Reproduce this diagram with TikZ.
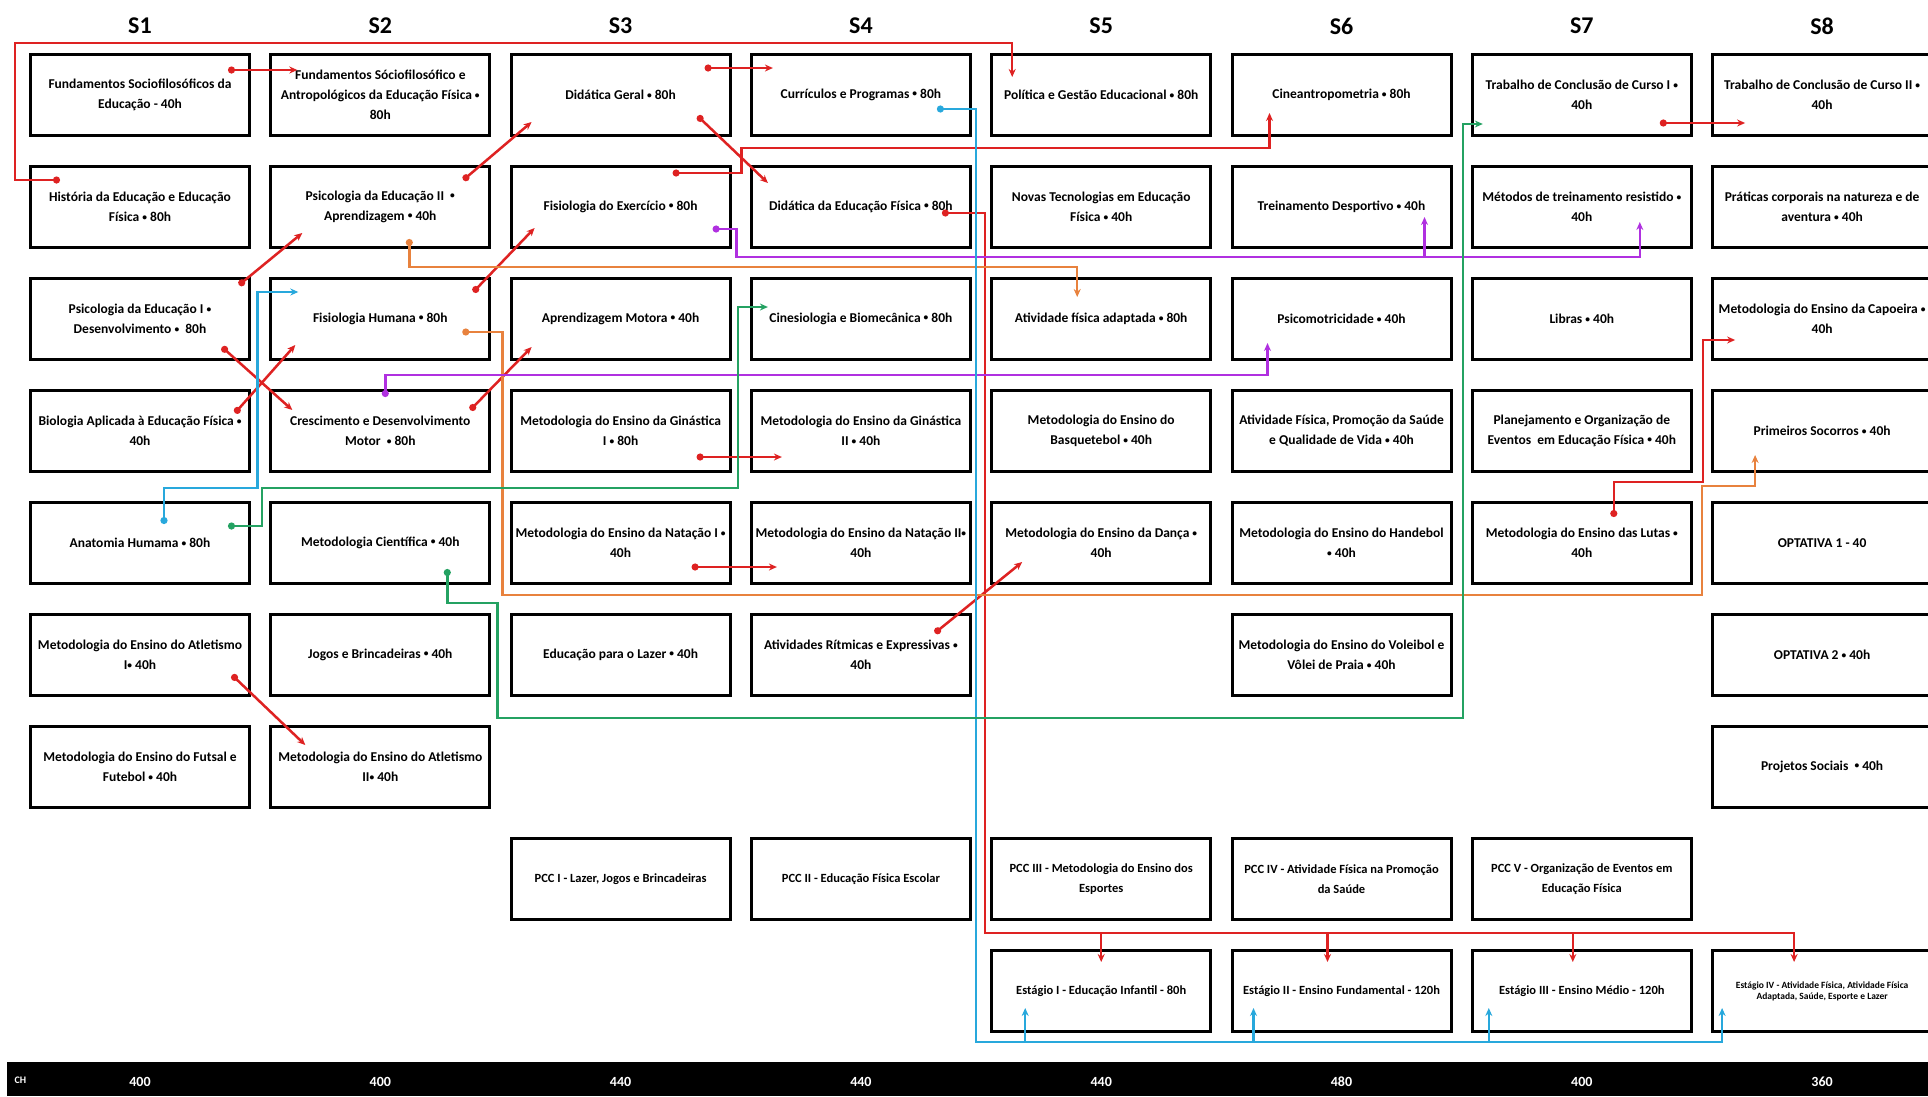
\documentclass[tikz,border=0pt]{standalone}
\usepackage{fontspec}
\setmainfont{Carlito}
\usepackage{tikz}
\usetikzlibrary{positioning,arrows,calc,arrows.meta}
\definecolor{reqred}{RGB}{222,34,34}
\definecolor{reqorange}{RGB}{232,130,62}
\definecolor{reqpurple}{RGB}{176,48,224}
\definecolor{reqblue}{RGB}{40,168,220}
\definecolor{reqgreen}{RGB}{36,162,98}
\newcommand{\hsep}{\raisebox{.25ex}{\scalebox{.7}{•}}}
\tikzset{
	grade/.style={x=1pt,y=-1pt,node distance=28pt and 18.3pt},
	disc/.style={rectangle,draw,line width=3pt,minimum width=219pt,minimum height=81pt,
		inner xsep=0pt,inner ysep=1pt,align=center,font=\bfseries\fontsize{13.5}{20}\selectfont},
	pcc/.style={disc,font=\bfseries\fontsize{12.5}{19.5}\selectfont},
	semester/.style={font=\bfseries\fontsize{24}{28}\selectfont},
	load/.style={text=white,font=\bfseries\fontsize{14}{16}\selectfont},
	link/.style={line width=2.5pt,{Circle[length=7pt]}-{Stealth[length=8pt,width=7pt]}},
	branch/.style={line width=2.5pt,-{Stealth[length=8pt,width=7pt]}}
}

\begin{document}
\begin{tikzpicture}[grade]
	\path[use as bounding box,fill=white] (0,0) rectangle (1928,1096);
	
	\node[disc] (s1a) at (140,95) {Fundamentos Sociofilosóficos da\\Educação - 40h};
	\node[disc] (s1b) [below=of s1a] {História da Educação e Educação\\Física \hsep{} 80h};
	\node[disc] (s1c) [below=of s1b] {Psicologia da Educação I \hsep\\Desenvolvimento \hsep{} \ 80h};
	\node[disc] (s1d) [below=of s1c] {Biologia Aplicada à Educação Física \hsep\\40h};
	\node[disc] (s1e) [below=of s1d] {Anatomia Humama \hsep{} 80h};
	\node[disc] (s1f) [below=of s1e] {Metodologia do Ensino do Atletismo\\I\hsep{} 40h};
	\node[disc] (s1g) [below=of s1f] {Metodologia do Ensino do Futsal e\\Futebol \hsep{} 40h};
	
	\node[disc] (s2a) [right=of s1a] {Fundamentos Sóciofilosófico e\\Antropológicos da Educação Física \hsep\\80h};
	\node[disc] (s2b) [below=of s2a] {Psicologia da Educação II \ \hsep\\Aprendizagem \hsep{} 40h};
	\node[disc] (s2c) [below=of s2b] {Fisiologia Humana \hsep{} 80h};
	\node[disc] (s2d) [below=of s2c] {Crescimento e Desenvolvimento\\Motor \ \hsep{} 80h};
	\node[disc] (s2e) [below=of s2d] {Metodologia Científica \hsep{} 40h};
	\node[disc] (s2f) [below=of s2e] {Jogos e Brincadeiras \hsep{} 40h};
	\node[disc] (s2g) [below=of s2f] {Metodologia do Ensino do Atletismo\\II\hsep{} 40h};
	
	\node[disc] (s3a) [right=of s2a] {Didática Geral \hsep{} 80h};
	\node[disc] (s3b) [below=of s3a] {Fisiologia do Exercício \hsep{} 80h};
	\node[disc] (s3c) [below=of s3b] {Aprendizagem Motora \hsep{} 40h};
	\node[disc] (s3d) [below=of s3c] {Metodologia do Ensino da Ginástica\\I \hsep{} 80h};
	\node[disc] (s3e) [below=of s3d] {Metodologia do Ensino da Natação I \hsep\\40h};
	\node[disc] (s3f) [below=of s3e] {Educação para o Lazer \hsep{} 40h};
	\node[pcc] (s3h) [below=140pt of s3f] {PCC I - Lazer, Jogos e Brincadeiras};
	
	\node[disc] (s4a) [right=of s3a] {Currículos e Programas \hsep{} 80h};
	\node[disc] (s4b) [below=of s4a] {Didática da Educação Física \hsep{} 80h};
	\node[disc] (s4c) [below=of s4b] {Cinesiologia e Biomecânica \hsep{} 80h};
	\node[disc] (s4d) [below=of s4c] {Metodologia do Ensino da Ginástica\\II \hsep{} 40h};
	\node[disc] (s4e) [below=of s4d] {Metodologia do Ensino da Natação II\hsep\\40h};
	\node[disc] (s4f) [below=of s4e] {Atividades Rítmicas e Expressivas \hsep\\40h};
	\node[pcc] (s4h) [below=140pt of s4f] {PCC II - Educação Física Escolar};
	
	\node[disc] (s5a) [right=of s4a] {Política e Gestão Educacional \hsep{} 80h};
	\node[disc] (s5b) [below=of s5a] {Novas Tecnologias em Educação\\Física \hsep{} 40h};
	\node[disc] (s5c) [below=of s5b] {Atividade física adaptada \hsep{} 80h};
	\node[disc] (s5d) [below=of s5c] {Metodologia do Ensino do\\Basquetebol \hsep{} 40h};
	\node[disc] (s5e) [below=of s5d] {Metodologia do Ensino da Dança \hsep\\40h};
	\node[pcc] (s5h) [below=252pt of s5e] {PCC III - Metodologia do Ensino dos\\Esportes};
	\node[pcc] (s5i) [below=of s5h] {Estágio I - Educação Infantil - 80h};
	
	\node[disc] (s6a) [right=of s5a] {Cineantropometria \hsep{} 80h};
	\node[disc] (s6b) [below=of s6a] {Treinamento Desportivo \hsep{} 40h};
	\node[disc] (s6c) [below=of s6b] {Psicomotricidade \hsep{} 40h};
	\node[disc] (s6d) [below=of s6c] {Atividade Física, Promoção da Saúde\\e Qualidade de Vida \hsep{} 40h};
	\node[disc] (s6e) [below=of s6d] {Metodologia do Ensino do Handebol\\\hsep{} 40h};
	\node[disc] (s6f) [below=of s6e] {Metodologia do Ensino do Voleibol e\\Vôlei de Praia \hsep{} 40h};
	\node[pcc] (s6h) [below=140pt of s6f] {PCC IV - Atividade Física na Promoção\\da Saúde};
	\node[pcc] (s6i) [below=of s6h] {Estágio II - Ensino Fundamental - 120h};
	
	\node[disc] (s7a) [right=of s6a] {Trabalho de Conclusão de Curso I \hsep\\40h};
	\node[disc] (s7b) [below=of s7a] {Métodos de treinamento resistido \hsep\\40h};
	\node[disc] (s7c) [below=of s7b] {Libras \hsep{} 40h};
	\node[disc] (s7d) [below=of s7c] {Planejamento e Organização de\\Eventos \ em Educação Física \hsep{} 40h};
	\node[disc] (s7e) [below=of s7d] {Metodologia do Ensino das Lutas \hsep\\40h};
	\node[pcc] (s7h) [below=252pt of s7e] {PCC V - Organização de Eventos em\\Educação Física};
	\node[pcc] (s7i) [below=of s7h] {Estágio III - Ensino Médio - 120h};
	
	\node[disc] (s8a) [right=of s7a] {Trabalho de Conclusão de Curso II \hsep\\40h};
	\node[disc] (s8b) [below=of s8a] {Práticas corporais na natureza e de\\aventura \hsep{} 40h};
	\node[disc] (s8c) [below=of s8b] {Metodologia do Ensino da Capoeira \hsep\\40h};
	\node[disc] (s8d) [below=of s8c] {Primeiros Socorros \hsep{} 40h};
	\node[disc] (s8e) [below=of s8d] {OPTATIVA 1 - 40};
	\node[disc] (s8f) [below=of s8e] {OPTATIVA 2 \hsep{} 40h};
	\node[disc] (s8g) [below=of s8f] {Projetos Sociais \ \hsep{} 40h};
	\node[disc,font=\bfseries\fontsize{9.5}{11}\selectfont] (s8i) [below=140pt of s8g] {Estágio IV - Atividade Física, Atividade Física\\Adaptada, Saúde, Esporte e Lazer};
	
	\node[semester] (t1) at ([yshift=69pt]s1a.center) {S1};
	\node[semester] (t2) at ([yshift=69pt]s2a.center) {S2};
	\node[semester] (t3) at ([yshift=69pt]s3a.center) {S3};
	\node[semester] (t4) at ([yshift=69pt]s4a.center) {S4};
	\node[semester] (t5) at ([yshift=69pt]s5a.center) {S5};
	\node[semester] (t6) at ([yshift=69pt]s6a.center) {S6};
	\node[semester] (t7) at ([yshift=69pt]s7a.center) {S7};
	\node[semester] (t8) at ([yshift=69pt]s8a.center) {S8};
	
	\fill (7,1062) rectangle (1928,1096);
	\node[load,font=\bfseries\fontsize{10}{12}\selectfont,anchor=west] (ch) at (11,1080) {CH};
	\node[load] (ch1) at ($(s1a)+(0,987)$) {400};
	\node[load] (ch2) at ($(s2a)+(0,987)$) {400};
	\node[load] (ch3) at ($(s3a)+(0,987)$) {440};
	\node[load] (ch4) at ($(s4a)+(0,987)$) {440};
	\node[load] (ch5) at ($(s5a)+(0,987)$) {440};
	\node[load] (ch6) at ($(s6a)+(0,987)$) {480};
	\node[load] (ch7) at ($(s7a)+(0,987)$) {400};
	\node[load] (ch8) at ($(s8a)+(0,987)$) {360};
	
	\draw[link,reqred] ($(s1a)+(88,-25)$) -- ($(s2a)+(-83,-25)$);
	\draw[link,reqred] ($(s1b)+(-80,-27)$) -- ++(-45,0) |- ($(s5a)+(-89,-52)$) -- ($(s5a)+(-89,-18)$);
	\draw[link,reqred] ($(s2b)+(83,-27)$) -- ($(s3a)+(-89,27)$);
	\draw[link,reqred] ($(s1c)+(99,-34)$) -- ($(s2b)+(-78,26)$);
	\draw[link,reqred] ($(s2c)+(93,-27)$) -- ($(s3b)+(-86,21)$);
	\draw[link,reqred] ($(s1c)+(82,28)$) -- ($(s2d)+(-88,-21)$);
	\draw[link,reqred] ($(s1d)+(95,-18)$) -- ($(s2c)+(-85,26)$);
	\draw[link,reqred] ($(s2d)+(90,-21)$) -- ($(s3c)+(-89,28)$);
	\draw[link,reqred] ($(s3a)+(77,21)$) -- ($(s4b)+(-93,-24)$);
	\draw[link,reqred] ($(s3a)+(84,-27)$) -- ($(s4a)+(-88,-27)$);
	\draw[link,reqred] ($(s3b)+(52,-34)$) -- ++(69,0) |- ($(s6a)+(-72,53)$) -- ($(s6a)+(-72,18)$);
	\draw[link,reqred] ($(s3d)+(76,26)$) -- ($(s4d)+(-79,26)$);
	\draw[link,reqred] ($(s3e)+(71,24)$) -- ($(s4e)+(-84,24)$);
	\draw[link,reqred] ($(s4f)+(74,-22)$) -- ($(s5e)+(-79,19)$);
	\draw[link,reqred] ($(s1f)+(92,20)$) -- ($(s2g)+(-75,-22)$);
	\draw[link,reqred] ($(s7a)+(78,28)$) -- ($(s8a)+(-77,28)$);
	\draw[link,reqred] ($(s7e)+(32,-26)$) -- ++(0,-35) -| ($(s8c)+(-119,21)$) -- ($(s8c)+(-87,21)$);
	\draw[link,reqred] ($(s4b)+(81,6)$) -- ++(43,0) |- ($(s8i)+(-28,-58)$) -- ($(s8i)+(-28,-29)$);
	\draw[branch,reqred] ($(s5i)+(0,-58)$) -- ($(s5i)+(0,-29)$);
	\draw[branch,reqred] ($(s6i)+(-14,-58)$) -- ($(s6i)+(-14,-29)$);
	\draw[branch,reqred] ($(s7i)+(-9,-58)$) -- ($(s7i)+(-9,-29)$);
	
	\draw[link,reqorange] ($(s2b)+(29,32)$) |- ($(s5c)+(-24,-52)$) -- ($(s5c)+(-24,-22)$);
	\draw[link,reqorange] ($(s2c)+(82,13)$) -- ++(40,0) -- ++(0,263) -| ($(s8d)+(-120,55)$) -| ($(s8d)+(-67,24)$);
	
	\draw[link,reqpurple] ($(s3b)+(92,22)$) -- ++(24,0) |- ($(s7b)+(58,50)$) -- ($(s7b)+(58,15)$);
	\draw[branch,reqpurple] ($(s6b)+(83,50)$) -- ($(s6b)+(83,10)$);
	\draw[link,reqpurple] ($(s2d)+(5,-34)$) |- ($(s6c)+(-74,56)$) -- ($(s6c)+(-74,24)$);
	
	\draw[link,reqblue] ($(s1e)+(24,-19)$) -- ++(0,-36) -| ($(s2c)+(-123,-27)$) -- ($(s2c)+(-82,-27)$);
	\draw[link,reqblue] ($(s4a)+(76,14)$) -- ++(39,0) |- ($(s8i)+(-100,51)$) -- ($(s8i)+(-100,17)$);
	\draw[branch,reqblue] ($(s5i)+(-76,51)$) -- ($(s5i)+(-76,17)$);
	\draw[branch,reqblue] ($(s6i)+(-88,51)$) -- ($(s6i)+(-88,17)$);
	\draw[branch,reqblue] ($(s7i)+(-93,51)$) -- ($(s7i)+(-93,17)$);
	
	\draw[link,reqgreen] ($(s1e)+(88,-17)$) -- ++(34,0) -- ++(0,-38) -| ($(s4c)+(-123,-12)$) -- ($(s4c)+(-93,-12)$);
	\draw[link,reqgreen] ($(s2e)+(67,26)$) -- ++(0,34) -- ++(50,0) -- ++(0,115) -| ($(s7a)+(-119,29)$) -- ($(s7a)+(-99,29)$);
\end{tikzpicture}
\end{document}
